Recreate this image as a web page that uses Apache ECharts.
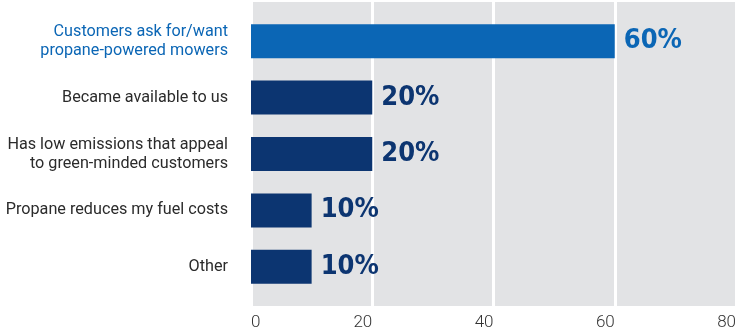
<!DOCTYPE html>
<html><head><meta charset="utf-8">
<script src="https://cdn.jsdelivr.net/npm/echarts@6/dist/echarts.min.js"></script>
<style>html,body{margin:0;padding:0;background:#fff}#c{width:738px;height:332px}</style>
</head><body><div id="c"></div>
<script>
const categories = ["Customers ask for/want\npropane-powered mowers", "Became available to us", "Has low emissions that appeal\nto green-minded customers", "Propane reduces my fuel costs", "Other"];
const values = [60, 20, 20, 10, 10];
const highlightIndex = 0;
const xTicks = [0, 20, 40, 60, 80];

const BLUE = '#0b66b5', NAVY = '#0c3571', TXT = '#2b2b2b';
const chart = echarts.init(document.getElementById('c'));
chart.setOption({
  animation: false,
  grid: [
    {left: 251, right: 2, top: 2, bottom: 26, show: true, backgroundColor: '#e2e3e5', borderWidth: 0, outerBoundsMode: 'none', containLabel: false},
    {left: 251, right: 2, top: 13, height: 282, outerBoundsMode: 'none', containLabel: false}
  ],
  xAxis: [
    {gridIndex: 0, type: 'value', min: xTicks[0], max: xTicks[xTicks.length-1], interval: 20,
     axisLine: {show: false}, axisTick: {show: false},
     splitLine: {show: true, lineStyle: {color: '#ffffff', width: 3}},
     axisLabel: {color: '#333', fontFamily: 'Roboto', fontWeight: 300, fontSize: 17, margin: 8,
       align: 'right', alignMinLabel: 'left', alignMaxLabel: 'right'}},
    {gridIndex: 1, type: 'value', min: xTicks[0], max: xTicks[xTicks.length-1], show: false}
  ],
  yAxis: [
    {gridIndex: 0, type: 'category', data: ['a'], show: false},
    {gridIndex: 1, type: 'category', data: categories, inverse: true,
     axisLine: {show: false}, axisTick: {show: false},
     axisLabel: {margin: 23, fontFamily: 'Roboto', fontSize: 16.2, lineHeight: 19,
       color: (v, i) => i === highlightIndex ? BLUE : TXT}}
  ],
  series: [{
    type: 'bar', xAxisIndex: 1, yAxisIndex: 1, barWidth: 34,
    data: values.map((v, i) => ({value: v,
      itemStyle: {color: i === highlightIndex ? BLUE : NAVY},
      label: {color: i === highlightIndex ? BLUE : NAVY}})),
    label: {show: true, position: 'right', distance: 9, formatter: '{c}%',
      fontFamily: '"DejaVu Sans Condensed", "Roboto Condensed", sans-serif', fontWeight: 'bold', fontSize: 27}
  }]
});
</script></body></html>
